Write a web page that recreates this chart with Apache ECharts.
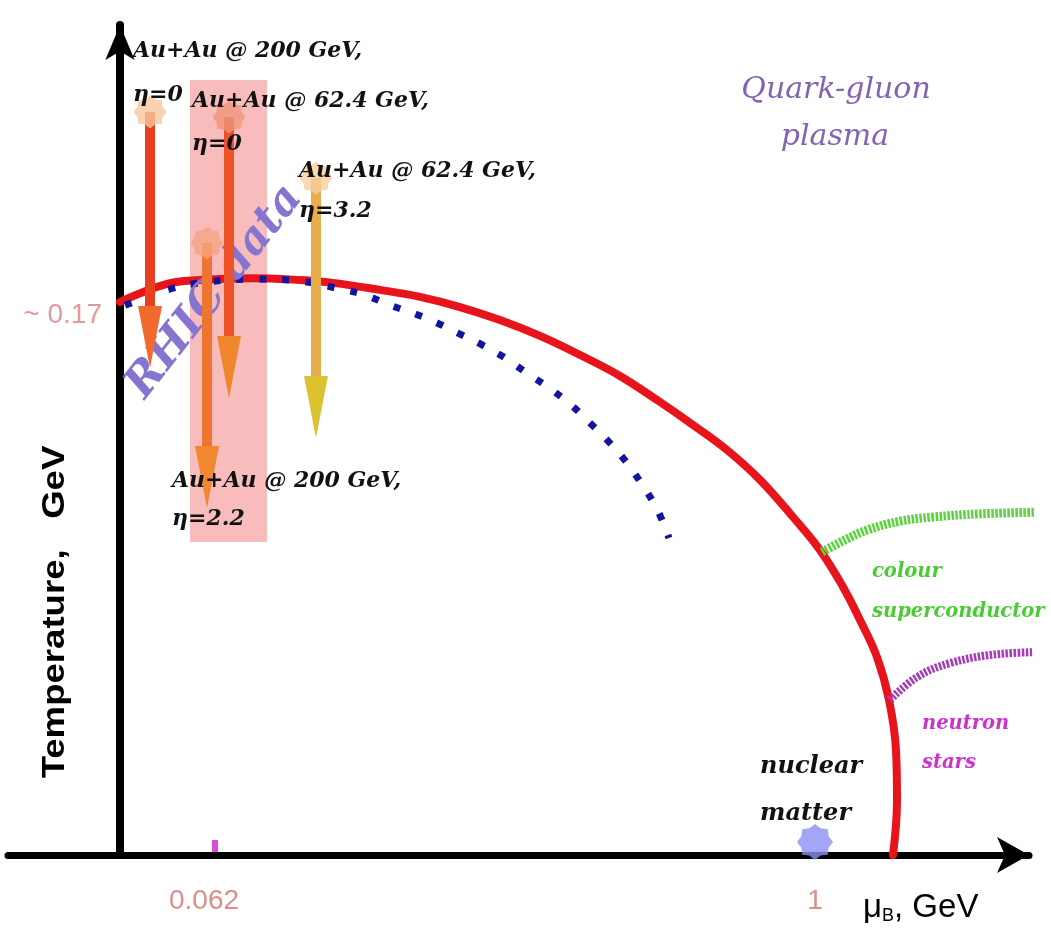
<!DOCTYPE html>
<html><head><meta charset="utf-8">
<script src="https://cdn.jsdelivr.net/npm/echarts@6/dist/echarts.min.js"></script>
<style>html,body{margin:0;padding:0;background:#fff}#c{width:1051px;height:941px}</style>
</head><body><div id="c"></div>
<script>
// ---- data (μB in schematic GeV units along the axis, T in GeV) ----
const muTickPos = [0.1367, 1.0];
const muTickLabels = ['0.062', '1'];
const tTickPos = [0.17];
const tTickLabels = ['~ 0.17'];

// phase boundary (red)
const boundaryMu = [0.0000,0.0676,0.1151,0.1871,0.2590,0.3065,0.3741,0.4317,0.4892,0.5468,0.6043,0.6619,0.7194,0.7770,0.8245,0.8734,0.9209,0.9683,1.0072,1.0403,1.0647,1.0892,1.1065,1.1165,1.1180,1.1122];
const boundaryT  = [0.1741,0.1798,0.1810,0.1816,0.1810,0.1801,0.1779,0.1757,0.1725,0.1684,0.1634,0.1574,0.1508,0.1426,0.1354,0.1275,0.1181,0.1064,0.0960,0.0844,0.0740,0.0623,0.0488,0.0331,0.0173,0.0000];

// dotted curve (blue)
const dottedMu = [0.0072,0.0331,0.0676,0.1151,0.1871,0.2590,0.3165,0.3525,0.3885,0.4216,0.4532,0.4863,0.5209,0.5540,0.5856,0.6158,0.6475,0.6763,0.7050,0.7295,0.7525,0.7741,0.7899];
const dottedT  = [0.1731,0.1750,0.1779,0.1801,0.1813,0.1807,0.1782,0.1763,0.1731,0.1706,0.1678,0.1643,0.1606,0.1565,0.1517,0.1473,0.1420,0.1360,0.1297,0.1234,0.1162,0.1083,0.0998];

// colour superconductor boundary (green)
const cscMu = [1.0101,1.0432,1.0748,1.1223,1.1698,1.2374,1.3381];
const cscT  = [0.0954,0.0992,0.1023,0.1051,0.1064,0.1074,0.1080];

// neutron-star boundary (purple)
const nsMu = [1.1079,1.1468,1.1942,1.2662,1.3381];
const nsT  = [0.0488,0.0560,0.0604,0.0633,0.0639];

// RHIC freeze-out arrows: mu, T start, T end
const arrowMu     = [0.0432, 0.1568, 0.1252, 0.2820];
const arrowTStart = [0.2339, 0.2323, 0.1927, 0.2131];
const arrowTEnd   = [0.1533, 0.1439, 0.1092, 0.1313];

// RHIC data band
const bandMu = [0.1007, 0.2115];
const bandT  = [0.0985, 0.2440];

// nuclear matter point and 0.062 marker
const nuclearMu = [1.0];
const nuclearT  = [0.0041];
const markerMu  = [0.1367];
const markerT   = [0.0];

// ---- styles ----
const arrowStyles = [
  {shaft:'#e8401f', head:'#f06a30', star:'#f8c89c'},
  {shaft:'#ec5428', head:'#f0862c', star:'#f0957a'},
  {shaft:'#ee7430', head:'#f0882e', star:'#f4a584'},
  {shaft:'#e8ae4c', head:'#dcc22e', star:'#f6cf9e'}
];
function starPath(){
  const pts=[];
  for(let i=0;i<16;i++){
    const a=i*Math.PI/8-Math.PI/2, r=(i%2)?41:50;
    pts.push((50+r*Math.cos(a)).toFixed(1)+' '+(50+r*Math.sin(a)).toFixed(1));
  }
  return 'path://M'+pts.join(' L')+' Z';
}
const STAR = starPath();
const zip = (a,b)=>a.map((v,i)=>[v,b[i]]);

const scriptFont = '"DejaVu Serif", serif';
const sans = '"Liberation Sans", Arial, sans-serif';
const texts = [
  ['Au+Au @ 200 GeV,', 133, 51, '#111', 22, 'left', 'bold'],
  ['η=0', 133, 95, '#111', 22, 'left', 'bold'],
  ['Au+Au @ 62.4 GeV,', 192, 101, '#111', 22, 'left', 'bold'],
  ['η=0', 192, 144, '#111', 22, 'left', 'bold'],
  ['Au+Au @ 62.4 GeV,', 299, 171, '#111', 22, 'left', 'bold'],
  ['η=3.2', 299, 211, '#111', 22, 'left', 'bold'],
  ['Au+Au @ 200 GeV,', 172, 481, '#111', 22, 'left', 'bold'],
  ['η=2.2', 172, 519, '#111', 22, 'left', 'bold'],
  ['Quark-gluon', 836, 90, '#8463b4', 30, 'center', 'normal'],
  ['plasma', 835, 137, '#8463b4', 30, 'center', 'normal'],
  ['colour', 872, 572, '#4ccc34', 19.5, 'left', 'bold'],
  ['superconductor', 872, 612, '#4ccc34', 19.5, 'left', 'bold'],
  ['neutron', 922, 724, '#cc33cc', 19.5, 'left', 'bold'],
  ['stars', 922, 763, '#cc33cc', 19.5, 'left', 'bold'],
  ['nuclear', 760, 767, '#111', 24, 'left', 'bold'],
  ['matter', 760, 814, '#111', 24, 'left', 'bold']
];
const graphics = texts.map(t=>({
  type:'text', x:t[1], y:t[2], z:100,
  style:{text:t[0], fill:t[3], fontSize:t[4], fontFamily:scriptFont, fontStyle:'italic', fontWeight:t[6], align:t[5], verticalAlign:'middle'}
}));
graphics.push({
  type:'text', x:215, y:292, z:4, rotation: 52*Math.PI/180,
  style:{text:'RHIC data', fill:'#8674d0', fontSize:44, fontFamily:scriptFont, fontStyle:'italic', fontWeight:'bold', align:'center', verticalAlign:'middle'}
});
graphics.push({
  type:'text', x:55, y:612, z:100, rotation: Math.PI/2, scaleX:1.18,
  style:{text:'Temperature,   GeV', fill:'#000', fontSize:31, fontFamily:sans, fontWeight:'bold', align:'center', verticalAlign:'middle'}
});
graphics.push({
  type:'text', x:863, y:908, z:100,
  style:{text:'{a|μ}{b|B}{a|, GeV}', align:'left', verticalAlign:'middle',
    rich:{a:{fontSize:33, fontFamily:sans, fill:'#000', color:'#000'},
          b:{fontSize:18, fontFamily:sans, fill:'#000', color:'#000', padding:[16,0,0,0]}}}
});

const chart = echarts.init(document.getElementById('c'), null, {renderer:'canvas'});
chart.setOption({
  animation:false,
  backgroundColor:'#fff',
  grid:{left:8, right:22, top:25, bottom:86, containLabel:false, outerBoundsMode:'none'},
  xAxis:{
    type:'value', min:-0.16115, max:1.30791,
    splitLine:{show:false}, axisTick:{show:false},
    axisLine:{onZero:true, symbol:['none','arrow'], symbolSize:[27,32], lineStyle:{color:'#000', width:7}},
    axisLabel:{customValues:muTickPos, margin:32, color:'#e08c8c', fontSize:28, fontFamily:sans,
      formatter:(v)=>{const i=muTickPos.findIndex(p=>Math.abs(p-v)<1e-6); return i>=0?(i===0?'{l|'+muTickLabels[i]+'}':muTickLabels[i]):'';},
      rich:{l:{padding:[0,22,0,0], color:'#e08c8c', fontSize:28, fontFamily:sans}}}
  },
  yAxis:{
    type:'value', min:0, max:0.26129, offset:-112,
    splitLine:{show:false}, axisTick:{show:false},
    axisLine:{onZero:false, symbol:['none','arrow'], symbolSize:[22,35], lineStyle:{color:'#000', width:8}},
    axisLabel:{customValues:tTickPos, margin:18, color:'#e39a9a', fontSize:28, fontFamily:sans,
      formatter:(v)=>{const i=tTickPos.findIndex(p=>Math.abs(p-v)<1e-6); return i>=0?tTickLabels[i]:'';}}
  },
  graphic: graphics,
  series:[
    {type:'custom', z:1, silent:true, clip:false,
     data:[[bandMu[0], bandT[1], bandMu[1], bandT[0]]],
     renderItem:(p,api)=>{const a=api.coord([api.value(0),api.value(1)]), b=api.coord([api.value(2),api.value(3)]);
       return {type:'rect', shape:{x:a[0], y:a[1], width:b[0]-a[0], height:b[1]-a[1]}, style:{fill:'#f8bcbc'}};}},
    {type:'line', z:2, data:zip(boundaryMu,boundaryT), smooth:0.4, showSymbol:false, clip:false, silent:true,
     lineStyle:{color:'#e8141c', width:8, cap:'round'}},
    {type:'line', z:3, data:zip(dottedMu,dottedT), smooth:0.35, showSymbol:false, clip:false, silent:true,
     lineStyle:{color:'#14149c', width:7, type:[7,16], cap:'butt'}},
    {type:'line', z:2, data:zip(cscMu,cscT), smooth:0.4, showSymbol:false, clip:false, silent:true,
     lineStyle:{color:'#5ad43c', width:9, type:[2.5,1.5]}},
    {type:'line', z:2, data:zip(nsMu,nsT), smooth:0.4, showSymbol:false, clip:false, silent:true,
     lineStyle:{color:'#a63cb8', width:8, type:[2.5,1.5]}},
    {type:'custom', z:5, silent:true, clip:false,
     data: arrowMu.map((m,i)=>[m, arrowTStart[i], arrowTEnd[i]]),
     renderItem:(params,api)=>{
       const x=api.value(0), top=api.coord([x,api.value(1)]), tip=api.coord([x,api.value(2)]);
       const st=arrowStyles[params.dataIndex], headLen=62, headW=24, shaftW=10;
       return {type:'group', children:[
         {type:'rect', shape:{x:top[0]-shaftW/2, y:top[1], width:shaftW, height:tip[1]-headLen-top[1]+2}, style:{fill:st.shaft}},
         {type:'polygon', shape:{points:[[tip[0]-headW/2,tip[1]-headLen],[tip[0]+headW/2,tip[1]-headLen],[tip[0],tip[1]]]}, style:{fill:st.head}}
       ]};
     }},
    {type:'scatter', z:6, silent:true, symbol:STAR, symbolSize:33,
     data: arrowMu.map((m,i)=>({value:[m, arrowTStart[i]], itemStyle:{color:arrowStyles[i].star}}))},
    {type:'scatter', z:6, silent:true, symbol:STAR, symbolSize:36, data:zip(nuclearMu,nuclearT), itemStyle:{color:'#8c90f2'}},
    {type:'scatter', z:6, silent:true, symbol:'rect', symbolSize:[6,12], symbolOffset:[0,-9], data:zip(markerMu,markerT), itemStyle:{color:'#d020d0'}}
  ]
});
</script></body></html>
